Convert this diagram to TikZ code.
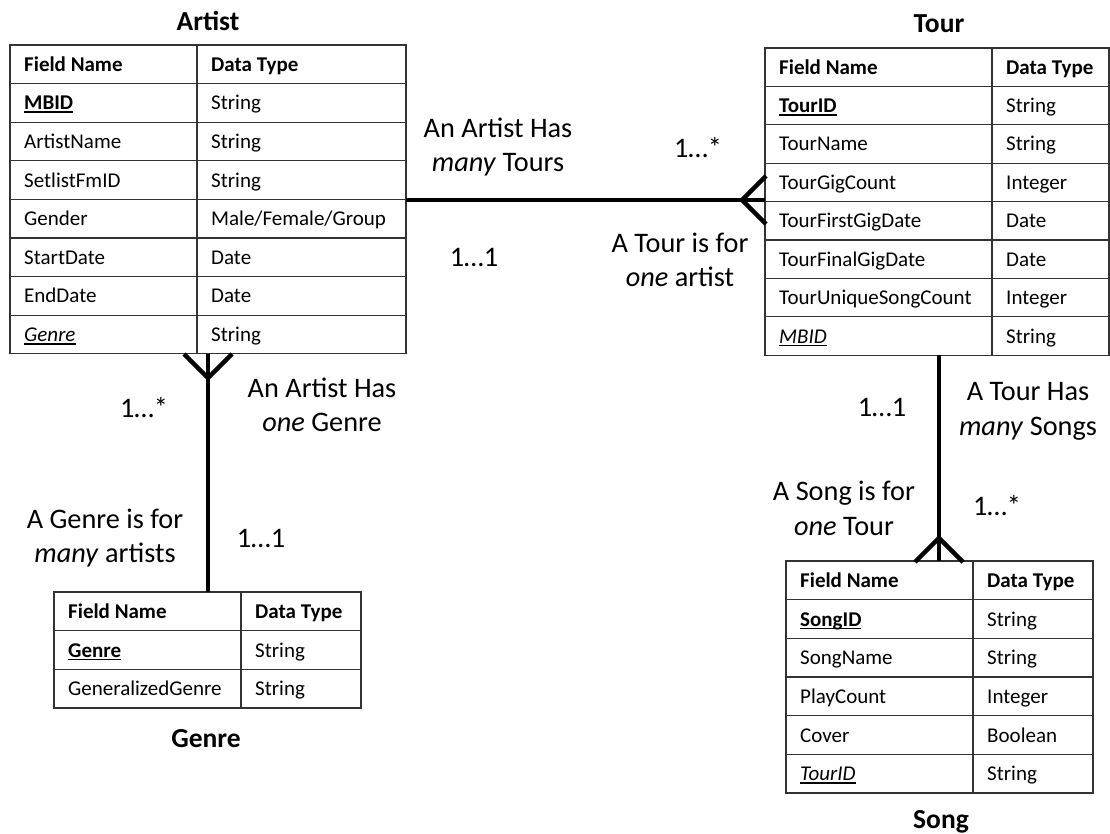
\documentclass[tikz,border=0pt]{standalone}
\usepackage{fontspec}
\setmainfont{Carlito}
\newcommand\cellfont{\fontsize{21}{24}\selectfont}
\newcommand\lblfont{\fontsize{28.3}{34.4}\selectfont}
\newcommand\ttlfont{\bfseries\fontsize{27.5}{30}\selectfont}
\newcommand\myul[1]{\setbox0\hbox{#1}\rlap{\rule[-3pt]{\wd0}{1.4pt}}\box0}
\newcommand\pk[1]{\textbf{\myul{#1}}}
\newcommand\fk[1]{\textit{\myul{#1}}}
\tikzset{
  tbl/.style={draw=black!80, line width=1.3pt, inner sep=0pt, outer sep=0pt},
  grid/.style={draw=black!80, line width=1.3pt},
  cell/.style={anchor=base west, inner sep=0pt, font=\cellfont},
  lbl/.style={anchor=base, inner sep=0pt, align=center, font=\lblfont},
  ttl/.style={anchor=base, inner sep=0pt, font=\ttlfont},
  conn/.style={draw=black, line width=4.5pt},
}
% name, left, top, divider, right, rowheight, nrows, rows
\newcommand\ertab[8]{%
  \node[tbl, anchor=north west, minimum width={#5-#2}, minimum height={#7*#6}] (#1) at (#2,#3) {};
  \draw[grid] (#4,#3) -- ({#4},{#3+#7*#6});
  \foreach [count=\i] \f/\t in {#8} {
    \node[cell] (#1f\i) at ({#2+14},{#3+(\i-0.5)*#6+7}) {\f};
    \node[cell] (#1t\i) at ({#4+14},{#3+(\i-0.5)*#6+7}) {\t};
    \ifnum\i>1 \draw[grid] ({#2},{#3+(\i-1)*#6}) -- ({#5},{#3+(\i-1)*#6}); \fi
  }%
}
\begin{document}
\begin{tikzpicture}[x=1pt,y=-1pt]
\path[fill=white] (0,0) rectangle (1110,834);
\useasboundingbox (0,0) rectangle (1110,834);

% tables
\ertab{artist}{10}{45}{197}{406}{38.6}{8}{%
  {\textbf{Field Name}}/{\textbf{Data Type}},
  {\pk{MBID}}/String,
  ArtistName/String,
  SetlistFmID/String,
  Gender/{Male/Female/Group},
  StartDate/Date,
  EndDate/Date,
  {\fk{Genre}}/String}
\ertab{tour}{765}{48}{992}{1109}{38.4}{8}{%
  {\textbf{Field Name}}/{\textbf{Data Type}},
  {\pk{TourID}}/String,
  TourName/String,
  TourGigCount/Integer,
  TourFirstGigDate/Date,
  TourFinalGigDate/Date,
  TourUniqueSongCount/Integer,
  {\fk{MBID}}/String}
\ertab{genre}{54}{592}{241}{361}{38.67}{3}{%
  {\textbf{Field Name}}/{\textbf{Data Type}},
  {\pk{Genre}}/String,
  GeneralizedGenre/String}
\ertab{song}{786}{561}{973}{1093}{38.67}{6}{%
  {\textbf{Field Name}}/{\textbf{Data Type}},
  {\pk{SongID}}/String,
  SongName/String,
  PlayCount/Integer,
  Cover/Boolean,
  {\fk{TourID}}/String}

% titles
\node[ttl] (artistT) at (208,30.7) {Artist};
\node[ttl] (tourT) at (939,32.3) {Tour};
\node[ttl] (genreT) at (206,747) {Genre};
\node[ttl] (songT) at (941,828) {Song};

% Artist -- Tour
\coordinate (at1) at (artist.east |- 0,200);
\coordinate (at2) at (tour.west |- 0,200);
\draw[conn] (at1) -- (at2);
\coordinate (atc) at (742,200);
\draw[conn] (atc) -- (766,176);
\draw[conn] (atc) -- (766,224);

% Artist -- Genre
\coordinate (ag1) at (artist.south -| 208,0);
\coordinate (ag2) at (genre.north -| 208,0);
\draw[conn] (ag1) -- (ag2);
\coordinate (agc) at (208,378);
\draw[conn] (agc) -- (184,354);
\draw[conn] (agc) -- (232,354);

% Tour -- Song
\coordinate (ts1) at (tour.south -| 939,0);
\coordinate (ts2) at (song.north -| 939,0);
\draw[conn] (ts1) -- (ts2);
\coordinate (tsc) at (939,538);
\draw[conn] (tsc) -- (915,562);
\draw[conn] (tsc) -- (963,562);

% labels (two-line labels: base = last line)
\node[lbl] (l1) at (498,171.7) {An Artist Has\\\textit{many} Tours};
\node[lbl] (l2) at (698,157.3) {1…*};
\node[lbl] (l3) at (474,266.7) {1…1};
\node[lbl] (l4) at (680,286.7) {A Tour is for\\\textit{one} artist};
\node[lbl] (l5) at (144,417.3) {1…*};
\node[lbl] (l6) at (322,431.7) {An Artist Has\\\textit{one} Genre};
\node[lbl] (l7) at (105,562.7) {A Genre is for\\\textit{many} artists};
\node[lbl] (l8) at (261,547.3) {1…1};
\node[lbl] (l9) at (882,416) {1…1};
\node[lbl] (l10) at (1028,435.1) {A Tour Has\\\textit{many} Songs};
\node[lbl] (l11) at (844,535.1) {A Song is for\\\textit{one} Tour};
\node[lbl] (l12) at (997,515) {1…*};
\end{tikzpicture}
\end{document}
